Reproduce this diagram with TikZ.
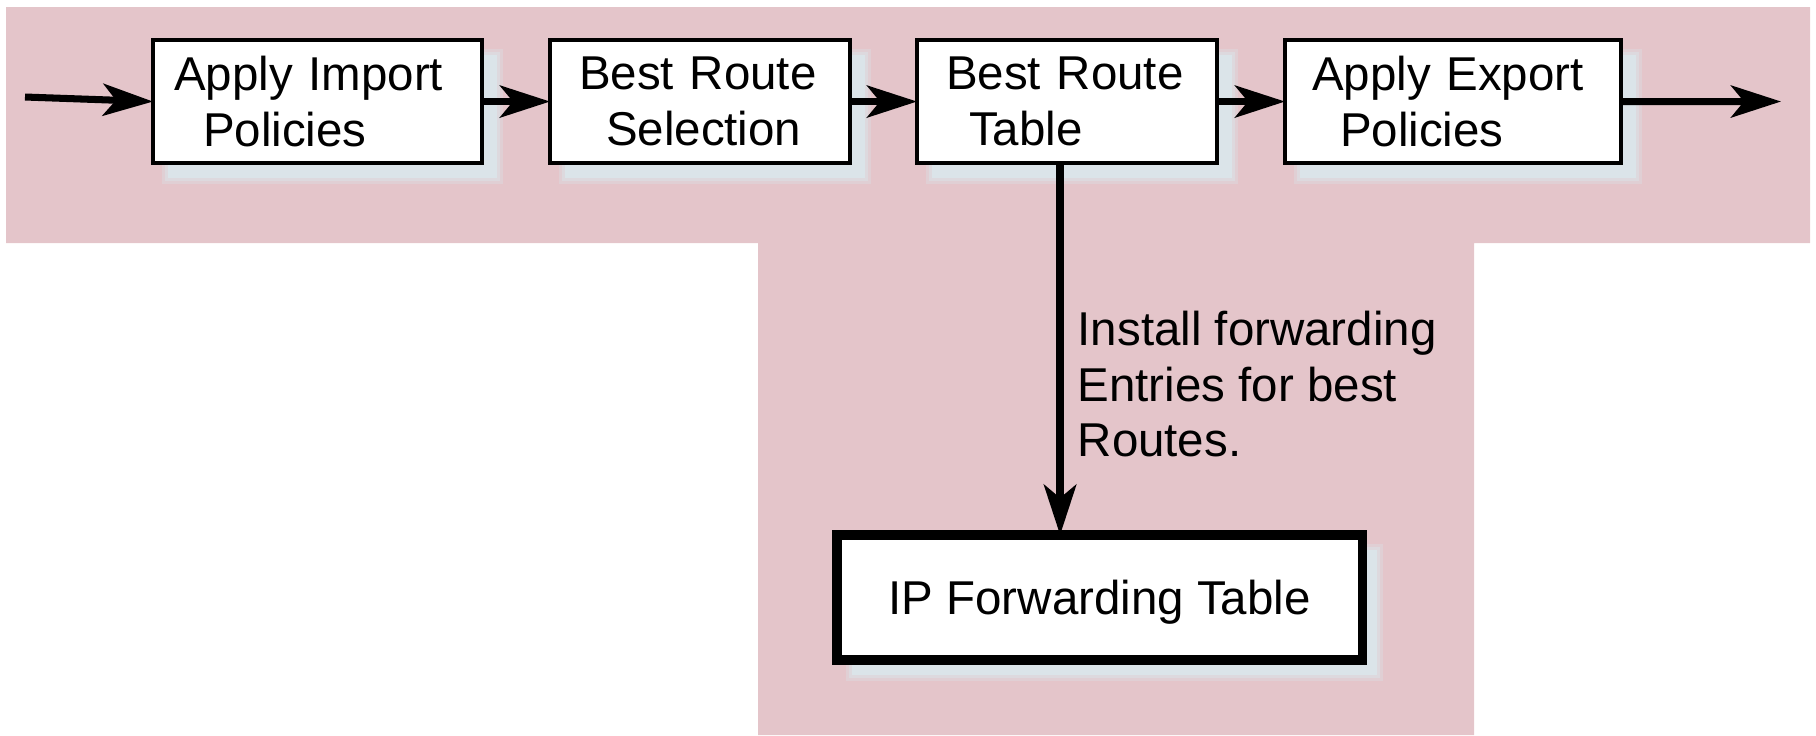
\documentclass[tikz,border=0pt]{standalone}
\usepackage{fontspec}
\setmainfont{Liberation Sans}
\usetikzlibrary{arrows.meta,calc}
\definecolor{pinkbg}{HTML}{E4C5CA}
\definecolor{shadowc}{HTML}{DBE4E9}
\pgfdeclarelayer{bglayer}
\pgfdeclarelayer{shadowlayer}
\pgfsetlayers{bglayer,shadowlayer,main}
\tikzset{
  txt/.style={font=\fontsize{13.5}{15.9}\selectfont},
  box/.style={txt, draw=black, line width=1.2pt, fill=white, minimum height=1.23cm,
    align=left, inner ysep=0pt, outer sep=0pt, anchor=north west},
  ipbox/.style={txt, draw=black, line width=2.7pt, fill=white, minimum height=1.25cm,
    minimum width=5.25cm, align=center, inner sep=0pt, outer sep=0pt, anchor=north west,
    text depth=0pt},
  lbl/.style={txt, align=left, inner sep=0pt, anchor=north west},
  arr/.style={line width=2pt, -{Stealth[length=0.5cm, width=0.32cm, inset=0.13cm]}},
}
\begin{document}
\begin{tikzpicture}[x=0.01cm, y=-0.01cm]
\useasboundingbox (0,0) rectangle (1816,735);
\begin{pgfonlayer}{bglayer}
\fill[pinkbg] (6,7) -- (1810,7) -- (1810,243) -- (1474,243) -- (1474,735)
  -- (758,735) -- (758,243) -- (6,243) -- cycle;
\end{pgfonlayer}

\node[box, inner xsep=0.21cm, text width=2.87cm] (b1) at (153,40) {Apply Import\\\hspace*{0.29cm}Policies};
\node[box, inner xsep=0.29cm, text width=2.42cm] (b2) at (550,40) {Best Route\\\hspace*{0.27cm}Selection};
\node[box, inner xsep=0.29cm, text width=2.42cm] (b3) at (917,40) {Best Route\\\hspace*{0.23cm}Table};
\node[box, inner xsep=0.27cm, text width=2.82cm] (b4) at (1285,40) {Apply Export\\\hspace*{0.28cm}Policies};
\node[ipbox] (ip) at (837,535) {IP Forwarding Table};
\node[lbl] (lab) at (1077,310) {Install forwarding\\Entries for best\\Routes.};

\begin{pgfonlayer}{shadowlayer}
\foreach \n in {b1,b2,b3,b4,ip} {
  \fill[shadowc, opacity=0.35] ($(\n.north west)+(9,9)$) rectangle ($(\n.south east)+(21,21)$);
  \fill[shadowc, opacity=0.5] ($(\n.north west)+(12,12)$) rectangle ($(\n.south east)+(18,18)$);
  \fill[shadowc] ($(\n.north west)+(15,15)$) rectangle ($(\n.south east)+(15,15)$);
}
\end{pgfonlayer}

\coordinate (in) at (25,97);
\coordinate (out) at (1781,101.5);
\coordinate (vtop) at ($(b3.south)+(-7,0)$);
\draw[arr] (in) -- (b1.west);
\draw[arr] (b1.east) -- (b2.west);
\draw[arr] (b2.east) -- (b3.west);
\draw[arr] (b3.east) -- (b4.west);
\draw[arr] (b4.east) -- (out);
\draw[arr, line width=2.4pt] (vtop) -- (vtop |- ip.north);
\end{tikzpicture}
\end{document}
